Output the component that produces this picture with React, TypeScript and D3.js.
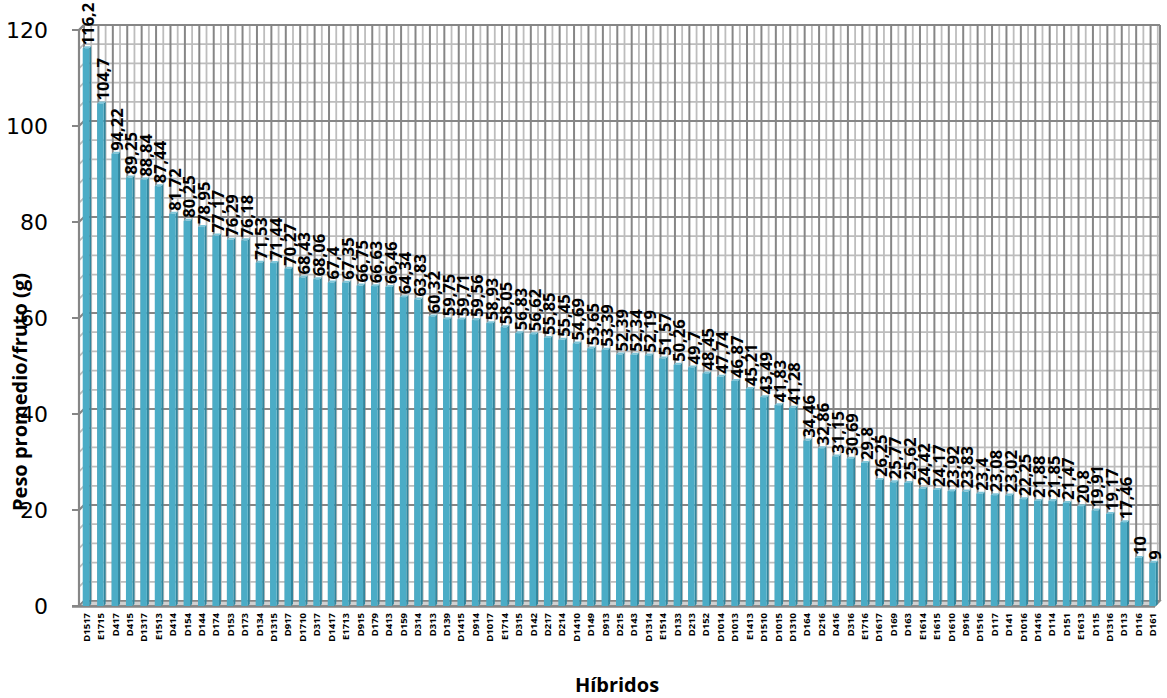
import React from "react";
import * as d3 from "d3";

const categories = ["D1517","E1715","D417","D415","D1317","E1513","D414","D154","D144","D174","D153","D173","D134","D1315","D917","D1710","D317","D1417","E1713","D915","D179","D413","D159","D314","D313","D139","D1415","D914","D1017","E1714","D315","D142","D217","D214","D1410","D149","D913","D215","D143","D1314","E1514","D133","D213","D152","D1014","D1013","E1413","D1510","D1015","D1310","D164","D216","D416","D316","E1716","D1617","D169","D163","E1614","E1615","D1610","D916","D1516","D117","D141","D1016","D1416","D114","D151","E1613","D115","D1316","D113","D116","D161"];

const values = [116.2,104.7,94.22,89.25,88.84,87.44,81.72,80.25,78.95,77.17,76.29,76.18,71.53,71.44,70.27,68.43,68.06,67.4,67.35,66.75,66.63,66.46,64.34,63.83,60.32,59.75,59.71,59.56,58.93,58.05,56.83,56.62,55.85,55.45,54.69,53.65,53.39,52.39,52.34,52.19,51.57,50.26,49.7,48.45,47.74,46.87,45.21,43.49,41.83,41.28,34.46,32.86,31.15,30.69,29.8,26.25,25.77,25.62,24.42,24.17,23.92,23.83,23.4,23.08,23.02,22.25,21.88,21.85,21.47,20.8,19.91,19.17,17.46,10,9];

const yTicks = [0, 20, 40, 60, 80, 100, 120];
const minorTicks = d3.range(0, 121, 4);

const W = 1167;
const H = 698;
const X0 = 79;
const X1 = 1160;
const DEPTH = 5;

export default function App() {
  const x = d3.scaleBand<string>().domain(categories).range([X0, X1]).padding(0);
  const y = d3.scaleLinear().domain([0, 120]).range([606, 30]);
  const bw = x.bandwidth();
  const fmt = (v: number) => String(v).replace(".", ",");
  const font = "'Open Sans', sans-serif";

  const wallTop = y(120) - DEPTH;
  const wallBottom = y(0) - DEPTH;

  return (
    <svg width={W} height={H} style={{ position: "absolute", left: 0, top: 0, background: "#fff" }}>
      <rect x={X0 + DEPTH} y={wallTop} width={X1 - X0 - DEPTH} height={wallBottom - wallTop} fill="#fff" />
      {categories.map((c) => (
        <line key={"vc" + c} x1={x(c)! + bw / 2 + DEPTH} x2={x(c)! + bw / 2 + DEPTH} y1={wallTop} y2={wallBottom} stroke="#BDBDBD" strokeWidth={1.8} />
      ))}
      {minorTicks.filter((t) => t % 20 !== 0).map((t) => (
        <g key={"mh" + t}>
          <line x1={X0 + DEPTH} x2={X1} y1={y(t) - DEPTH} y2={y(t) - DEPTH} stroke="#BDBDBD" strokeWidth={1.8} />
          <line x1={X0} x2={X0 + DEPTH} y1={y(t)} y2={y(t) - DEPTH} stroke="#BDBDBD" strokeWidth={1.8} />
        </g>
      ))}
      {categories.map((c) => (
        <line key={"vb" + c} x1={x(c)! + DEPTH} x2={x(c)! + DEPTH} y1={wallTop} y2={wallBottom} stroke="#868686" strokeWidth={2} />
      ))}
      <line x1={X1} x2={X1} y1={wallTop} y2={wallBottom} stroke="#868686" strokeWidth={2} />
      {yTicks.map((t) => (
        <g key={"MH" + t}>
          <line x1={X0 + DEPTH} x2={X1} y1={y(t) - DEPTH} y2={y(t) - DEPTH} stroke="#868686" strokeWidth={2.2} />
          <line x1={X0} x2={X0 + DEPTH} y1={y(t)} y2={y(t) - DEPTH} stroke="#868686" strokeWidth={2.2} />
        </g>
      ))}
      <polygon
        points={`${X0},${y(0)} ${X1 - DEPTH},${y(0)} ${X1},${y(0) - DEPTH} ${X0 + DEPTH},${y(0) - DEPTH}`}
        fill="#D0D0D0"
        stroke="#868686"
        strokeWidth={1.5}
      />
      <line x1={X0} x2={X0} y1={y(120)} y2={y(0)} stroke="#868686" strokeWidth={2.2} />
      <line x1={X0} x2={X0 + DEPTH} y1={y(120)} y2={y(120) - DEPTH} stroke="#868686" strokeWidth={2} />
      {yTicks.map((t) => (
        <line key={"tk" + t} x1={X0 - 7} x2={X0} y1={y(t)} y2={y(t)} stroke="#868686" strokeWidth={2} />
      ))}
      <line x1={X0 - 7} x2={X1 - DEPTH} y1={y(0) + 0.5} y2={y(0) + 0.5} stroke="#868686" strokeWidth={2.5} />
      {categories.map((c, i) => {
        const cx = x(c)! + bw / 2;
        const v = values[i];
        const x0 = cx - 3.5;
        const w = 6.5;
        const yt = y(v);
        const yb = y(0);
        const d = 2;
        return (
          <g key={"b" + c}>
            <polygon points={`${x0 + w},${yb} ${x0 + w + d},${yb - d} ${x0 + w + d},${yt - d} ${x0 + w},${yt}`} fill="#31859C" />
            <polygon points={`${x0},${yt} ${x0 + d},${yt - d} ${x0 + w + d},${yt - d} ${x0 + w},${yt}`} fill="#7FC6DA" />
            <rect x={x0} y={yt} width={w} height={yb - yt} fill="#4BACC6" />
          </g>
        );
      })}
      {categories.map((c, i) => {
        const cx = x(c)! + bw / 2 + 1.5;
        const yy = y(values[i]) - 3;
        return (
          <text
            key={"v" + c}
            transform={`translate(${cx},${yy}) rotate(-90)`}
            textAnchor="start"
            dominantBaseline="central"
            fontFamily={font}
            fontWeight="bold"
            fontSize={16.5}
            fill="#000"
          >
            {fmt(values[i])}
          </text>
        );
      })}
      {categories.map((c) => (
        <text
          key={"c" + c}
          transform={`translate(${x(c)! + bw / 2},${613}) rotate(-90)`}
          textAnchor="end"
          dominantBaseline="central"
          fontFamily={font}
          fontWeight="bold"
          fontSize={9.5}
          fill="#000"
        >
          {c}
        </text>
      ))}
      {yTicks.map((t) => (
        <text key={"yl" + t} x={48} y={y(t)} textAnchor="end" dominantBaseline="central" fontFamily="'DejaVu Sans', sans-serif" fontSize={22} fill="#000">
          {t}
        </text>
      ))}
      <text
        transform={`translate(${19},${392}) rotate(-90)`}
        textAnchor="middle"
        dominantBaseline="central"
        fontFamily={font}
        fontWeight="bold"
        fontSize={20}
        fill="#000"
      >
        Peso promedio/fruto (g)
      </text>
      <text x={617} y={684} textAnchor="middle" dominantBaseline="central" fontFamily={font} fontWeight="bold" fontSize={20} fill="#000">
        Híbridos
      </text>
    </svg>
  );
}
